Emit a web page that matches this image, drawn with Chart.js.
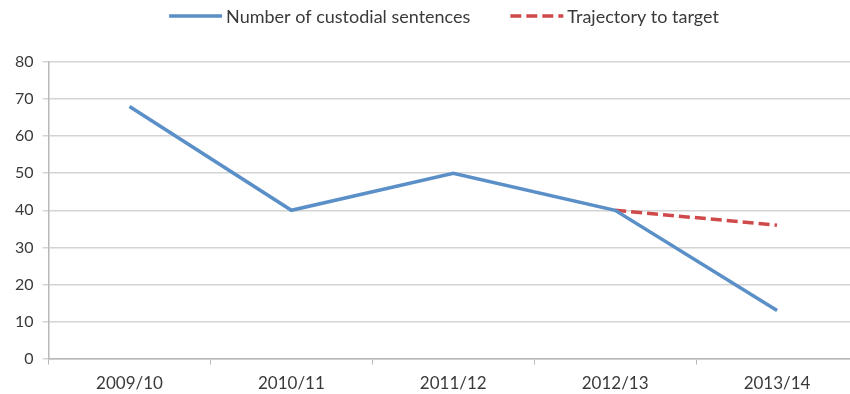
<!DOCTYPE html>
<html>
<head>
<meta charset="utf-8">
<script src="https://cdn.jsdelivr.net/npm/chart.js@4/dist/chart.umd.min.js"></script>
<style>
html,body{margin:0;padding:0;background:#fff;overflow:hidden;}
#wrap{width:850px;height:394px;overflow:hidden;}
</style>
</head>
<body>
<div id="wrap"><canvas id="c" width="860" height="394"></canvas></div>
<script>
const categories = ["2009/10", "2010/11", "2011/12", "2012/13", "2013/14"];
const custodialSentences = [68, 40, 50, 40, 13];
const trajectoryToTarget = [null, null, null, 40, 36];
const yTicks = [0, 10, 20, 30, 40, 50, 60, 70, 80];

const fontFamily = "Lato, 'Open Sans', sans-serif";
const textColor = '#3a3a3a';

// Legend drawn on the canvas (line samples followed by labels)
const customLegend = {
  id: 'customLegend',
  afterDraw(chart, args, opts) {
    const ctx = chart.ctx;
    const ds = chart.data.datasets;
    ctx.save();
    ctx.font = opts.fontSize + 'px ' + fontFamily;
    const items = ds.map((d) => ({ d, textW: ctx.measureText(d.label).width }));
    const sample = opts.sampleWidth, gap = opts.gap, spacing = opts.spacing;
    let total = 0;
    items.forEach((it, i) => { total += sample + gap + it.textW + (i < items.length - 1 ? spacing : 0); });
    let x = opts.centerX - total / 2;
    const y = opts.y;
    items.forEach((it) => {
      ctx.beginPath();
      ctx.lineWidth = it.d.borderWidth;
      ctx.strokeStyle = it.d.borderColor;
      ctx.setLineDash(it.d.borderDash || []);
      ctx.moveTo(x, y);
      ctx.lineTo(x + sample, y);
      ctx.stroke();
      ctx.setLineDash([]);
      x += sample + gap;
      ctx.fillStyle = textColor;
      ctx.textBaseline = 'middle';
      ctx.textAlign = 'left';
      ctx.fillText(it.d.label, x, y + 1);
      x += it.textW + spacing;
    });
    ctx.restore();
  }
};

new Chart(document.getElementById('c'), {
  type: 'line',
  data: {
    labels: categories,
    datasets: [
      {
        label: 'Number of custodial sentences',
        data: custodialSentences,
        borderColor: '#5b8fc7',
        backgroundColor: '#5b8fc7',
        borderWidth: 3.5,
        pointRadius: 0,
        tension: 0
      },
      {
        label: 'Trajectory to target',
        data: trajectoryToTarget,
        borderColor: '#cf4a4a',
        backgroundColor: '#cf4a4a',
        borderWidth: 3.5,
        borderDash: [11, 5],
        pointRadius: 0,
        tension: 0
      }
    ]
  },
  plugins: [customLegend],
  options: {
    responsive: false,
    animation: false,
    layout: { padding: { left: 6, right: 2, top: 62, bottom: -9 } },
    plugins: {
      tooltip: { enabled: false },
      legend: { display: false },
      customLegend: { sampleWidth: 53, gap: 4, spacing: 40, fontSize: 18, centerX: 444, y: 16 }
    },
    scales: {
      x: {
        offset: true,
        grid: {
          display: true,
          drawOnChartArea: false,
          offset: true,
          color: '#b8b8b8',
          tickLength: 6
        },
        border: { color: '#b8b8b8', width: 1.5 },
        ticks: {
          color: textColor,
          font: { family: fontFamily, size: 17 },
          padding: 9
        }
      },
      y: {
        min: 0,
        max: 80,
        afterBuildTicks: (axis) => { axis.ticks = yTicks.map(v => ({ value: v })); },
        grid: { color: '#d4d4d4', lineWidth: 1.5, tickLength: 6 },
        border: { color: '#b8b8b8', width: 1.5 },
        ticks: {
          color: textColor,
          font: { family: fontFamily, size: 16 },
          padding: 9
        }
      }
    }
  }
});
</script>
</body>
</html>
